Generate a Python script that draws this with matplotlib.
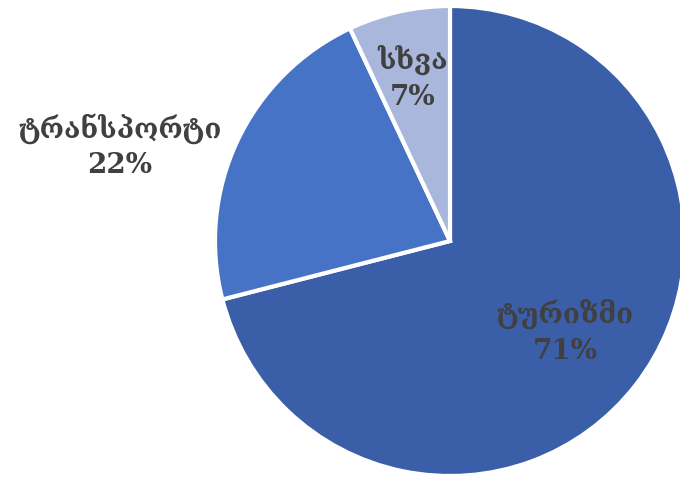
import matplotlib
matplotlib.use("Agg")
import matplotlib.pyplot as plt
import numpy as np

# sector shares, %
names = ["ტურიზმი", "ტრანსპორტი", "სხვა"]
shares = [71, 22, 7]
colors = ["#3a5ea8", "#4673c6", "#a9b7dd"]

# label anchors (figure pixels, origin bottom-left)
label_xy = [(565, 149), (120, 335), (413, 403)]

fig = plt.figure(figsize=(6.8, 4.81), dpi=100)
ax = fig.add_axes([0, 0, 1, 1])

ax.pie(shares, colors=colors, startangle=90, counterclock=False,
       center=(450, 239), radius=235, frame=True,
       wedgeprops=dict(edgecolor="white", linewidth=3))
ax.set_xlim(0, 680)
ax.set_ylim(0, 481)
ax.set_aspect("equal")
ax.axis("off")

for name, val, (x, y) in zip(names, shares, label_xy):
    ax.text(x, y, f"{name}\n{val}%", ha="center", va="center",
            fontsize=20, family="DejaVu Serif", fontweight="bold",
            color="#404040", linespacing=1.4)

fig.savefig("out.png", dpi=100)
